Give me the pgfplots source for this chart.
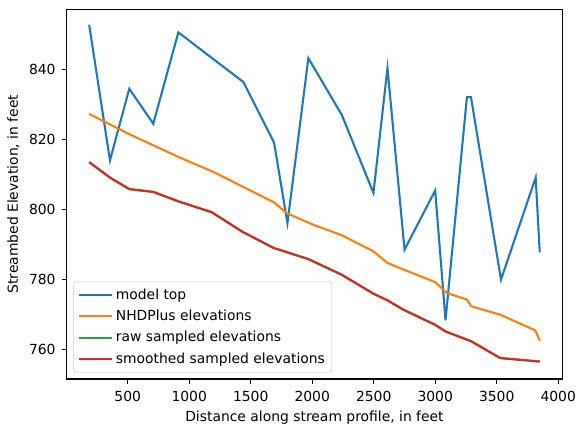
\documentclass[border=0pt]{standalone}
\usepackage{fontspec}
\setmainfont{DejaVu Sans}
\usepackage{pgfplots}
\pgfplotsset{compat=1.18}
\definecolor{c0}{HTML}{1F77B4}
\definecolor{c1}{HTML}{FF7F0E}
\definecolor{c2}{HTML}{2CA02C}
\definecolor{c3}{HTML}{D62728}
\begin{document}
\begin{tikzpicture}
\begin{axis}[
  at={(0,0)}, anchor=south west,
  scale only axis,
  width=356.8bp, height=266.2bp,
  xmin=4, xmax=4033, ymin=751.6, ymax=857.3,
  xtick={500,1000,1500,2000,2500,3000,3500,4000},
  ytick={760,780,800,820,840},
  tick align=outside,
  major tick length=3.5bp,
  every tick/.style={black, line width=0.8bp},
  axis line style={black, line width=0.8bp},
  xtick pos=bottom, ytick pos=left,
  font=\fontsize{10bp}{12bp}\selectfont,
  xticklabel style={yshift=-1.5bp},
  yticklabel style={xshift=-1bp},
  /pgf/number format/assume math mode=true,
  /pgf/number format/1000 sep={},
  xlabel={Distance along stream profile, in feet},
  ylabel={Streambed Elevation, in feet},
  legend cell align=left,
  legend style={at={(0.0133,0.018)}, anchor=south west,
    draw=black!20, rounded corners=2bp, fill=white, fill opacity=0.8, text opacity=1,
    font=\fontsize{10bp}{12bp}\selectfont, row sep=2.2bp, inner xsep=3bp, inner ysep=3bp},
  legend image code/.code={\draw[#1] (0bp,0bp) -- (21bp,0bp); \path (0bp,0bp) -- (24bp,0bp);},
]
\addplot[c0, line width=1.5bp] coordinates {
(187,852.9) (356,814.1) (513,834.6) (708,824.6) (912,850.7) (1441,836.5)
(1690,819.2) (1799,796.2) (1969,843.3) (2241,827.1) (2498,804.8) (2612,840.5)
(2751,788.6) (3000,805.5) (3084,768.4) (3258,832.2) (3291,832.2) (3535,780.0)
(3817,809.2) (3850,787.8)};
\addlegendentry{model top}
\addplot[c1, line width=1.5bp] coordinates {
(187,827.4) (513,821.6) (912,815.1) (1197,810.8) (1690,802.1) (1794,799.0)
(2010,795.7) (2241,792.7) (2498,788.1) (2612,784.8) (2743,782.9) (3000,779.3)
(3095,776.2) (3258,774.3) (3293,772.4) (3529,770.0) (3814,765.5) (3850,762.6)};
\addlegendentry{NHDPlus elevations}
\addplot[c2, line width=1.5bp] coordinates {
(187,813.6) (356,809.2) (513,805.9) (708,805.1) (912,802.4) (1183,799.3)
(1428,793.8) (1685,789.1) (1969,785.9) (2241,781.4) (2498,776.0) (2612,774.1)
(2743,771.4) (3000,767.1) (3084,765.2) (3293,762.4) (3529,757.6) (3850,756.6)};
\addlegendentry{raw sampled elevations}
\addplot[c3, line width=1.5bp] coordinates {
(187,813.6) (356,809.2) (513,805.9) (708,805.1) (912,802.4) (1183,799.3)
(1428,793.8) (1685,789.1) (1969,785.9) (2241,781.4) (2498,776.0) (2612,774.1)
(2743,771.4) (3000,767.1) (3084,765.2) (3293,762.4) (3529,757.6) (3850,756.6)};
\addlegendentry{smoothed sampled elevations}
\end{axis}
\path (-48.0bp,-38.2bp) rectangle (373.9bp,272.9bp);
\end{tikzpicture}
\end{document}
